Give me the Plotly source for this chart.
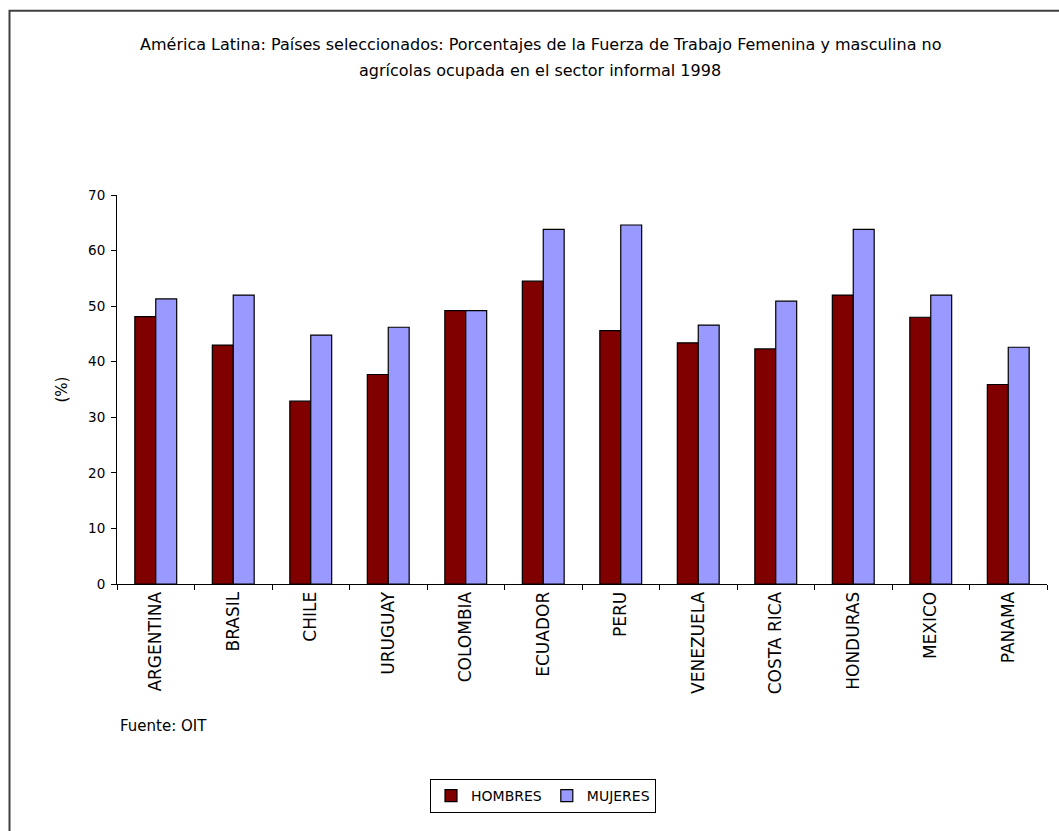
import plotly.graph_objects as go

# Países y porcentajes de ocupación en el sector informal no agrícola, 1998
paises = ["ARGENTINA", "BRASIL", "CHILE", "URUGUAY", "COLOMBIA", "ECUADOR",
          "PERU", "VENEZUELA", "COSTA RICA", "HONDURAS", "MEXICO", "PANAMA"]
hombres = [48.1, 43.0, 32.9, 37.7, 49.2, 54.5, 45.6, 43.4, 42.3, 52.0, 48.0, 35.9]
mujeres = [51.3, 52.0, 44.8, 46.2, 49.2, 63.8, 64.6, 46.6, 50.9, 63.8, 52.0, 42.6]

y_ticks = [0, 10, 20, 30, 40, 50, 60, 70]

titulo_1 = "América Latina: Países seleccionados: Porcentajes de la Fuerza de Trabajo Femenina y masculina no"
titulo_2 = "agrícolas ocupada en el sector informal 1998"

W, H = 1059, 831
L, R, T, B = 117, 12, 195, 246.5
pw, ph = W - L - R, H - T - B

def px_x(x):
    return (x - L) / pw

def px_y(y):
    return (H - B - y) / ph

FONT = "DejaVu Sans, Liberation Sans, sans-serif"

fig = go.Figure()
fig.add_trace(go.Bar(
    x=paises, y=hombres, name="HOMBRES",
    marker=dict(color="#800000", line=dict(color="black", width=1.2)),
))
fig.add_trace(go.Bar(
    x=paises, y=mujeres, name="MUJERES",
    marker=dict(color="#9999FF", line=dict(color="black", width=1.2)),
))

fig.update_layout(
    width=W, height=H,
    margin=dict(l=L, r=R, t=T, b=B),
    paper_bgcolor="white", plot_bgcolor="white",
    barmode="group", bargap=0.46, bargroupgap=0,
    font=dict(family=FONT, size=15, color="black"),
    showlegend=True,
    legend=dict(
        orientation="h",
        x=543 / W, xanchor="center", xref="container",
        y=1 - 779 / H, yanchor="top", yref="container",
        bordercolor="black", borderwidth=1,
        font=dict(family=FONT, size=14, color="black"),
        itemwidth=30,
    ),
    xaxis=dict(
        type="category",
        showline=True, linecolor="black", linewidth=1,
        ticks="outside", ticklen=5, tickcolor="black", tickson="boundaries",
        tickangle=-90, showgrid=False,
        tickfont=dict(family=FONT, size=17, color="black"),
    ),
    yaxis=dict(
        range=[0, 70], tickvals=y_ticks,
        showline=True, linecolor="black", linewidth=1,
        ticks="outside", ticklen=5, tickcolor="black",
        ticklabelstandoff=3,
        showgrid=False, zeroline=False,
        title=dict(text="(%)", standoff=16, font=dict(family=FONT, size=15)),
        tickfont=dict(family=FONT, size=13.5, color="black"),
    ),
    shapes=[dict(
        type="rect", xref="paper", yref="paper",
        x0=px_x(9.5), x1=px_x(W + 20), y0=px_y(10.5), y1=px_y(H + 20),
        line=dict(color="#404040", width=2), fillcolor="rgba(0,0,0,0)",
        layer="below",
    )],
    annotations=[
        dict(text=titulo_1, xref="paper", yref="paper",
             x=px_x(540), y=px_y(44), xanchor="center", yanchor="middle",
             showarrow=False, font=dict(family=FONT, size=16, color="black")),
        dict(text=titulo_2, xref="paper", yref="paper",
             x=px_x(540), y=px_y(70), xanchor="center", yanchor="middle",
             showarrow=False, font=dict(family=FONT, size=16, color="black")),
        dict(text="Fuente: OIT", xref="paper", yref="paper",
             x=px_x(118), y=px_y(727), xanchor="left", yanchor="middle",
             showarrow=False, font=dict(family=FONT, size=15, color="black")),
    ],
)

fig.write_html("out.html")
